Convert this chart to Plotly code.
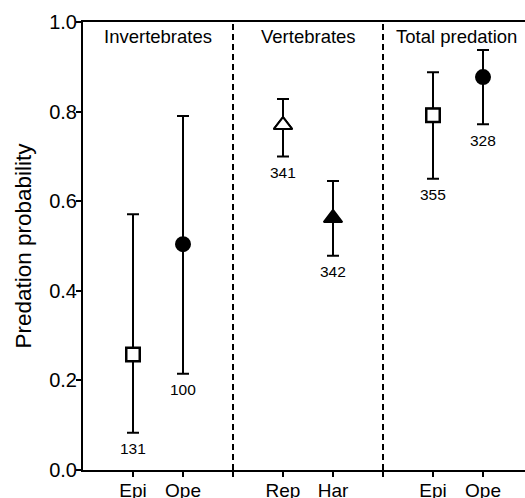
import plotly.graph_objects as go

categories = ["Epi", "Ope", "", "Rep", "Har", "", "Epi", "Ope"]
tick_positions = [1, 2, 3, 4, 5, 6, 7, 8]
point_x = [1, 2, 4, 5, 7, 8]
point_mean = [0.258, 0.504, 0.770, 0.5625, 0.792, 0.877]
point_low = [0.083, 0.215, 0.700, 0.478, 0.650, 0.772]
point_high = [0.571, 0.790, 0.828, 0.645, 0.888, 0.9375]
sample_n = ["131", "100", "341", "342", "355", "328"]
symbols = ["square-open", "circle", "triangle-up-open", "triangle-up", "square-open", "circle"]
section_names = ["Invertebrates", "Vertebrates", "Total predation"]
section_centers = [1.5, 4.5, 7.47]
dividers = [3, 6]

FONT = "Liberation Sans, Arial, sans-serif"

fig = go.Figure()
for x, m, lo, hi, sym in zip(point_x, point_mean, point_low, point_high, symbols):
    fig.add_trace(go.Scatter(
        x=[x], y=[m], mode="markers",
        marker=dict(symbol=sym, size=14 if "square" in sym else (16 if "triangle" in sym else 14),
                    color="black", line=dict(color="black", width=2)),
        error_y=dict(type="data", symmetric=False, array=[hi - m], arrayminus=[m - lo],
                     color="black", thickness=2, width=6),
        showlegend=False, hoverinfo="skip",
    ))
# white fill for open markers
for x, m, sym in zip(point_x, point_mean, symbols):
    if sym.endswith("-open"):
        fig.add_trace(go.Scatter(
            x=[x], y=[m], mode="markers",
            marker=dict(symbol=sym.replace("-open", ""), size=13 if "square" in sym else 16,
                        color="white", line=dict(color="black", width=2)),
            showlegend=False, hoverinfo="skip",
        ))

for x, lo, n in zip(point_x, point_low, sample_n):
    fig.add_annotation(x=x, y=lo, text=n, showarrow=False, yshift=-16,
                       font=dict(size=15.5, color="black", family=FONT))

for cx, name in zip(section_centers, section_names):
    fig.add_annotation(x=cx, y=1.0, text=name, showarrow=False, yanchor="top", yshift=-2,
                       font=dict(size=18.5, color="black", family=FONT))

for d in dividers:
    fig.add_shape(type="line", x0=d, x1=d, y0=0, y1=1, xref="x", yref="y",
                  line=dict(color="black", width=2, dash="6px,4px"))

fig.update_layout(
    width=525, height=498,
    margin=dict(l=83, r=0, t=22, b=28),
    plot_bgcolor="white", paper_bgcolor="white",
    font=dict(family=FONT, color="black"),
    xaxis=dict(range=[0, 8.84], tickvals=tick_positions, ticktext=categories,
               ticks="outside", ticklen=5, tickwidth=2, tickcolor="black",
               showline=True, linewidth=2, linecolor="black", mirror=True,
               showgrid=False, zeroline=False, tickfont=dict(size=19),
               ticklabelstandoff=-3, automargin=False),
    yaxis=dict(range=[0, 1], tickvals=[0, 0.2, 0.4, 0.6, 0.8, 1.0], tickformat=".1f",
               ticks="outside", ticklen=5, tickwidth=2, tickcolor="black",
               showline=True, linewidth=2, linecolor="black",
               showgrid=False, zeroline=False, tickfont=dict(size=20),
               ticklabelstandoff=-5,
               title=dict(text="Predation probability", font=dict(size=22.5), standoff=11),
               automargin=False),
)

fig.write_html(
    "out.html",
    config={"displayModeBar": False},
    post_script="document.body.style.margin='0';document.body.style.overflow='hidden';",
)
